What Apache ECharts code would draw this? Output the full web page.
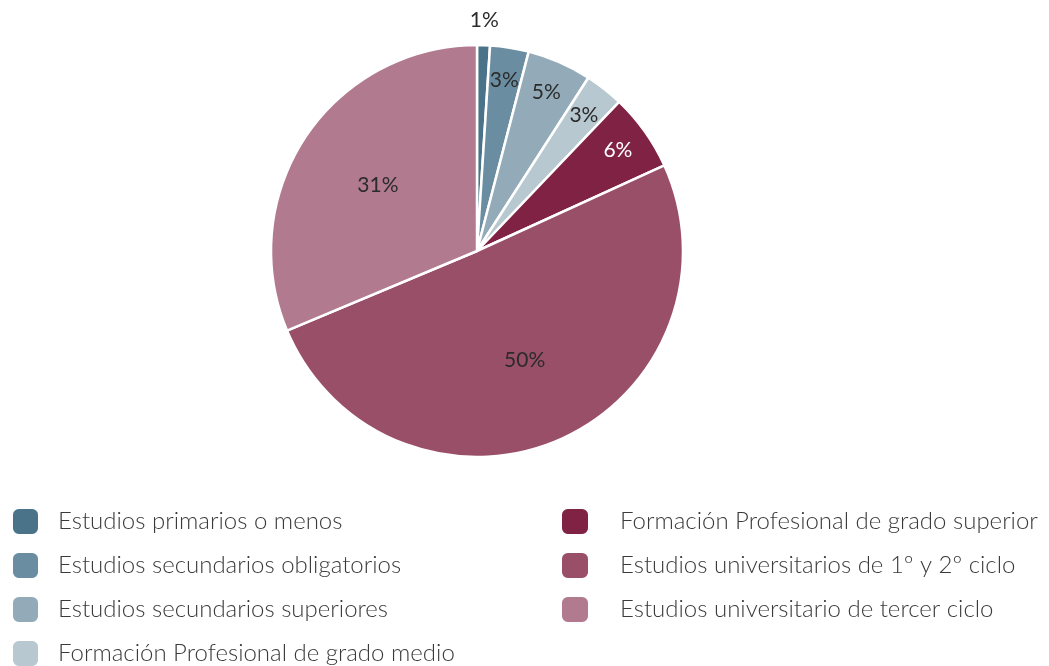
<!DOCTYPE html>
<html>
<head>
<meta charset="utf-8">
<script src="https://cdn.jsdelivr.net/npm/echarts@6/dist/echarts.min.js"></script>
<style>
    html, body { margin: 0; padding: 0; background: #fff; }
    #chart { width: 1049px; height: 666px; }
</style>
</head>
<body>
<div id="chart"></div>
<script>
const categories = [
    'Estudios primarios o menos',
    'Estudios secundarios obligatorios',
    'Estudios secundarios superiores',
    'Formación Profesional de grado medio',
    'Formación Profesional de grado superior',
    'Estudios universitarios de 1º y 2º ciclo',
    'Estudios universitario de tercer ciclo'
];
const values = [1, 3, 5, 3, 6, 50, 31];
const colorList = ['#4a7389', '#6b8da1', '#93abb8', '#b7c8d0', '#802244', '#9a4f69', '#b17a8e'];
const labelColors = ['#2b2b2b', '#2b2b2b', '#2b2b2b', '#2b2b2b', '#ffffff', '#2b2b2b', '#2b2b2b'];
// which label ring each slice's label sits on
const labelRing = ['outer', 'mid', 'mid', 'mid', 'mid', 'inner', 'inner'];

const FONT = 'Lato';
const center = [477, 251];

function labelSeries(ring, outerRadius) {
    return {
        type: 'pie',
        center: center,
        radius: [0, outerRadius],
        startAngle: 90,
        clockwise: true,
        silent: true,
        z: 5,
        emphasis: { disabled: true },
        itemStyle: { color: 'transparent', borderWidth: 0 },
        labelLine: { show: false },
        data: categories.map((name, i) => ({
            name: name,
            value: values[i],
            label: {
                show: labelRing[i] === ring,
                position: 'inside',
                formatter: values[i] + '%',
                color: labelColors[i],
                fontFamily: FONT,
                fontSize: 21,
                fontWeight: 'normal'
            }
        }))
    };
}

const legendText = {
    fontFamily: FONT,
    fontSize: 24,
    lineHeight: 27,
    fontWeight: 300,
    color: '#3a3a3a'
};

const chart = echarts.init(document.getElementById('chart'));
chart.setOption({
    animation: false,
    color: colorList,
    legend: [
        {
            orient: 'vertical',
            left: 11,
            top: 507,
            height: 220,
            padding: 0,
            itemWidth: 27,
            itemHeight: 27,
            itemGap: 15,
            icon: 'roundRect',
            selectedMode: false,
            data: categories.slice(0, 4),
            textStyle: Object.assign({ padding: [0, 0, 0, 14] }, legendText)
        },
        {
            orient: 'vertical',
            left: 560,
            top: 507,
            height: 220,
            padding: 0,
            itemWidth: 28,
            itemHeight: 27,
            itemGap: 15,
            icon: 'roundRect',
            selectedMode: false,
            data: categories.slice(4),
            textStyle: Object.assign({ padding: [0, 0, 0, 26] }, legendText)
        }
    ],
    series: [
        {
            type: 'pie',
            center: center,
            radius: [0, 206],
            startAngle: 90,
            clockwise: true,
            emphasis: { disabled: true },
            itemStyle: {
                borderColor: '#ffffff',
                borderWidth: 2.5
            },
            label: { show: false },
            labelLine: { show: false },
            data: categories.map((name, i) => ({ name: name, value: values[i] }))
        },
        labelSeries('outer', 456),
        labelSeries('mid', 340),
        labelSeries('inner', 232)
    ]
});
</script>
</body>
</html>
